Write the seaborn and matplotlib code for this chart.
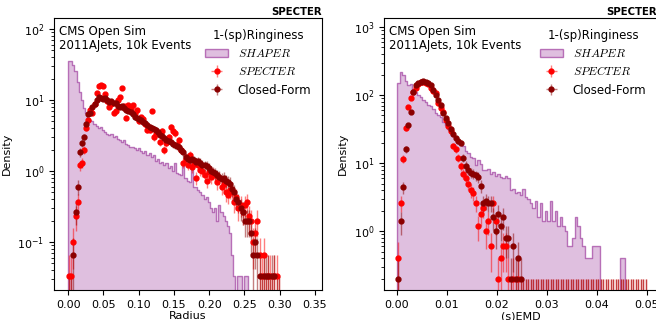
import numpy as np
import matplotlib
matplotlib.use("Agg")
import matplotlib.pyplot as plt
from matplotlib.colors import to_rgba
import seaborn as sns

N_EVENTS = 10000

# Radius panel, 100 bins over [0, 0.3], counts per bin
radius_edges = np.linspace(0, 0.3, 101)
radius_shaper = [1080, 1050, 930, 780, 540, 390, 300, 231, 195, 165,
                 156, 150, 138, 129, 123, 126, 114, 105, 99, 96,
                 99, 90, 93, 84, 81, 78, 81, 72, 69, 66,
                 66, 63, 60, 63, 57, 54, 57, 51, 54, 48,
                 51, 42, 45, 39, 40, 36, 39, 33, 35, 30,
                 39, 28, 27, 26, 37, 24, 22, 21, 33, 18,
                 18, 16, 15, 14, 12, 13, 11, 9, 8, 9,
                 6, 10, 8, 7, 6, 5, 4, 2, 1, 0,
                 1, 1, 0, 1, 1, 0, 0, 0, 0, 0,
                 0, 0, 0, 0, 0, 0, 0, 0, 0, 0]
radius_specter = [1, 1, 3, 7, 11, 36, 39, 60, 120, 156,
                  216, 200, 260, 380, 470, 485, 470, 360, 290, 240,
                  260, 200, 210, 300, 330, 440, 250, 170, 255, 230,
                  255, 200, 215, 150, 174, 160, 140, 115, 114, 210,
                  90, 100, 102, 77, 110, 59, 75, 90, 126, 110,
                  102, 70, 81, 60, 39, 45, 37, 50, 34, 38,
                  24, 36, 31, 30, 26, 22, 29, 25, 28, 26,
                  21, 24, 18, 20, 15, 14, 16, 15, 11, 13,
                  9, 10, 8, 10, 11, 7, 6, 3, 4, 6,
                  2, 1, 2, 0, 1, 1, 0, 1, 1, 0]
radius_closed = [0, 0, 2, 8, 18, 55, 75, 90, 140, 190,
                 200, 240, 265, 300, 330, 320, 310, 318, 300, 285,
                 290, 275, 273, 250, 240, 245, 232, 215, 210, 204,
                 190, 175, 168, 160, 156, 148, 141, 135, 126, 120,
                 118, 114, 105, 96, 92, 87, 83, 80, 77, 72,
                 69, 68, 66, 60, 55, 47, 45, 43, 44, 43,
                 40, 41, 39, 37, 36, 35, 33, 30, 29, 28,
                 26, 25, 23, 24, 22, 21, 20, 17, 15, 12,
                 11, 9, 8, 6, 6, 6, 4, 2, 3, 2,
                 1, 0, 1, 1, 1, 0, 1, 1, 0, 0]

# (s)EMD panel, 100 bins over [0, 0.05], counts per bin
emd_edges = np.linspace(0, 0.05, 101)
emd_shaper = [750, 1090, 1000, 800, 700, 725, 600, 550, 500, 460,
              425, 400, 360, 340, 310, 275, 250, 235, 200, 180,
              160, 140, 125, 110, 100, 95, 90, 75, 70, 62,
              60, 47, 55, 49, 40, 39, 41, 35, 37, 32,
              35, 31, 30, 32, 30, 20, 21, 18, 19, 17,
              21, 16, 15, 13, 11, 14, 8, 13, 7, 10,
              7, 14, 7, 10, 6, 8, 6, 5, 3, 3,
              4, 8, 6, 4, 3, 2, 2, 2, 3, 3,
              3, 0, 0, 0, 0, 0, 0, 0, 0, 2,
              2, 0, 0, 0, 0, 0, 0, 0, 0, 0]
emd_specter = [2, 13, 57, 163, 330, 450, 560, 635, 720, 775,
               790, 760, 725, 640, 580, 535, 380, 320, 280, 215,
               175, 150, 90, 80, 60, 45, 35, 30, 25, 20,
               18, 13, 6, 9, 11, 5, 7, 3, 13, 7,
               1, 2, 3, 3, 1, 0, 1, 0, 1, 0] + [0] * 50
emd_closed = [1, 7, 22, 80, 180, 280, 550, 700, 760, 790,
              800, 780, 750, 700, 590, 500, 420, 355, 270, 230,
              195, 160, 135, 115, 105, 98, 60, 46, 40, 36,
              35, 33, 31, 23, 13, 14, 13, 13, 8, 5,
              9, 6, 8, 4, 4, 1, 3, 1, 2, 1] + [0] * 50

PURPLE = "purple"
plt.rcParams["font.size"] = 8


def draw_hist(ax, edges, counts):
    width = edges[1] - edges[0]
    centers = 0.5 * (edges[:-1] + edges[1:])
    dens = np.array(counts) / (N_EVENTS * width)
    sns.histplot(x=centers, weights=dens, bins=edges.tolist(), element="step", fill=True,
                 stat="count", color=PURPLE, alpha=0.25,
                 edgecolor=to_rgba(PURPLE, 0.5), linewidth=1,
                 label=r"$\mathit{SHAPER}$", ax=ax)


def draw_points(ax, edges, counts, color, label):
    width = edges[1] - edges[0]
    centers = 0.5 * (edges[:-1] + edges[1:])
    counts = np.array(counts, dtype=float)
    dens = counts / (N_EVENTS * width)
    err = np.sqrt(np.maximum(counts, 1)) / (N_EVENTS * width)
    ax.errorbar(centers, dens, yerr=err, xerr=width / 2, fmt="o", ms=3.5,
                color=color, ecolor=to_rgba(color, 0.5), elinewidth=1,
                capsize=0, label=label)


fig = plt.figure(figsize=(6.56, 3.2), dpi=100)
ax1 = fig.add_axes([54 / 656, 30 / 320, 268 / 656, 272 / 320])
ax2 = fig.add_axes([384 / 656, 30 / 320, 273 / 656, 272 / 320])

panels = [
    (ax1, radius_edges, radius_shaper, radius_specter, radius_closed, "Radius", (-0.02, 0.36), (0.0211, 143)),
    (ax2, emd_edges, emd_shaper, emd_specter, emd_closed, "(s)EMD", (-0.0026, 0.052), (0.136, 1356)),
]

for ax, edges, shaper, specter, closed, xlabel, xlim, ylim in panels:
    draw_hist(ax, edges, shaper)
    draw_points(ax, edges, specter, "red", r"$\mathit{SPECTER}$")
    draw_points(ax, edges, closed, "darkred", "Closed-Form")
    ax.set_yscale("log")
    ax.set_xlim(*xlim)
    ax.set_ylim(*ylim)
    ax.set_xlabel(xlabel, labelpad=1)
    ax.set_ylabel("Density")
    ax.set_title("SPECTER", loc="right", fontsize=7.3, fontweight="bold", pad=2)
    ax.text(0.02, 0.975, "CMS Open Sim\n2011AJets, 10k Events", transform=ax.transAxes,
            ha="left", va="top", fontsize=8.5, linespacing=1.15)
    leg = ax.legend(loc="upper right", title="1-(sp)Ringiness", frameon=False,
                    fontsize=8.5, title_fontsize=8.5, labelspacing=0.45)
    for t in leg.get_texts():
        t.set_math_fontfamily("cm")

fig.savefig("out.png", dpi=100)
